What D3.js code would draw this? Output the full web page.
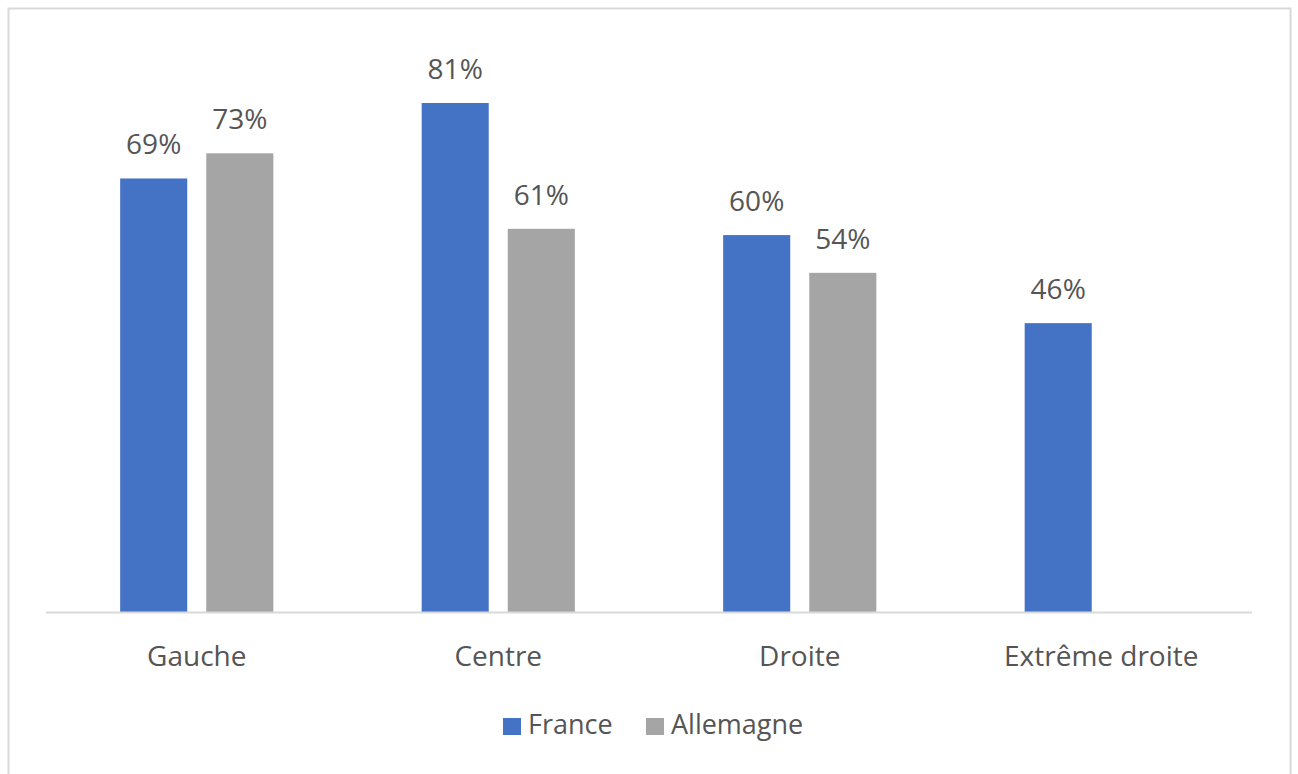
<!DOCTYPE html>
<html><head><meta charset="utf-8">
<script src="https://cdn.jsdelivr.net/npm/d3@7"></script>
<style>body{margin:0;background:#fff;}svg{display:block;}</style>
</head><body>
<svg id="c" width="1298" height="774"></svg>
<script>
const categories = ["Gauche", "Centre", "Droite", "Extrême droite"];
const seriesNames = ["France", "Allemagne"];
const france = [69, 81, 60, 46];
const allemagne = [73, 61, 54, null];
const colors = ["#4472C4", "#A5A5A5"];

(function () {
const svg = d3.select("#c");
const plotLeft = 46, plotRight = 1252, base = 612.5;
const font = "'Open Sans', sans-serif";
const textColor = "#555555";

// frame
svg.append("rect").attr("x", 8.5).attr("y", 8.5).attr("width", 1282).attr("height", 780)
  .attr("fill", "#fff").attr("stroke", "#d9d9d9").attr("stroke-width", 2);

const x0 = d3.scaleBand().domain(categories).range([plotLeft, plotRight]).paddingInner(0.492).paddingOuter(0.246);
const x1 = d3.scaleBand().domain(seriesNames).range([0, x0.bandwidth()]).paddingInner(0.221);
const y = d3.scaleLinear().domain([0, 81]).range([base, 103]);

const data = categories.map((c, i) => ({cat: c, vals: [france[i], allemagne[i]]}));
const items = d => d.vals.map((v, j) => ({v, s: seriesNames[j], j})).filter(e => e.v != null);

const g = svg.append("g");
const groups = g.selectAll("g.grp").data(data).enter().append("g")
  .attr("transform", d => `translate(${x0(d.cat)},0)`);

groups.selectAll("rect").data(items).enter().append("rect")
  .attr("x", e => x1(e.s)).attr("width", x1.bandwidth())
  .attr("y", e => y(e.v)).attr("height", e => base - y(e.v))
  .attr("fill", e => colors[e.j]);

groups.selectAll("text").data(items).enter().append("text")
  .attr("x", e => x1(e.s) + x1.bandwidth() / 2)
  .attr("y", e => y(e.v) - 24)
  .attr("text-anchor", "middle")
  .attr("font-family", font).attr("font-size", 28).attr("fill", textColor)
  .text(e => e.v + "%");

// baseline axis
const xAxis = d3.axisBottom(x0).tickSize(0).tickPadding(0);
const ax = svg.append("g").attr("transform", `translate(0,${base})`).call(xAxis);
ax.select(".domain").attr("stroke", "#d9d9d9").attr("stroke-width", 2)
  .attr("d", `M${plotLeft},0H${plotRight}`);
ax.selectAll(".tick text").attr("font-family", font).attr("font-size", 28)
  .attr("fill", textColor).attr("dy", 0).attr("y", 53);

// legend
const legX = [503, 646];
const leg = svg.append("g");
seriesNames.forEach((s, j) => {
  leg.append("rect").attr("x", legX[j]).attr("y", 718).attr("width", 18).attr("height", 17).attr("fill", colors[j]);
  leg.append("text").attr("x", legX[j] + 25).attr("y", 734)
    .attr("font-family", font).attr("font-size", 27).attr("fill", textColor).text(s);
});
})();
</script>
</body></html>
